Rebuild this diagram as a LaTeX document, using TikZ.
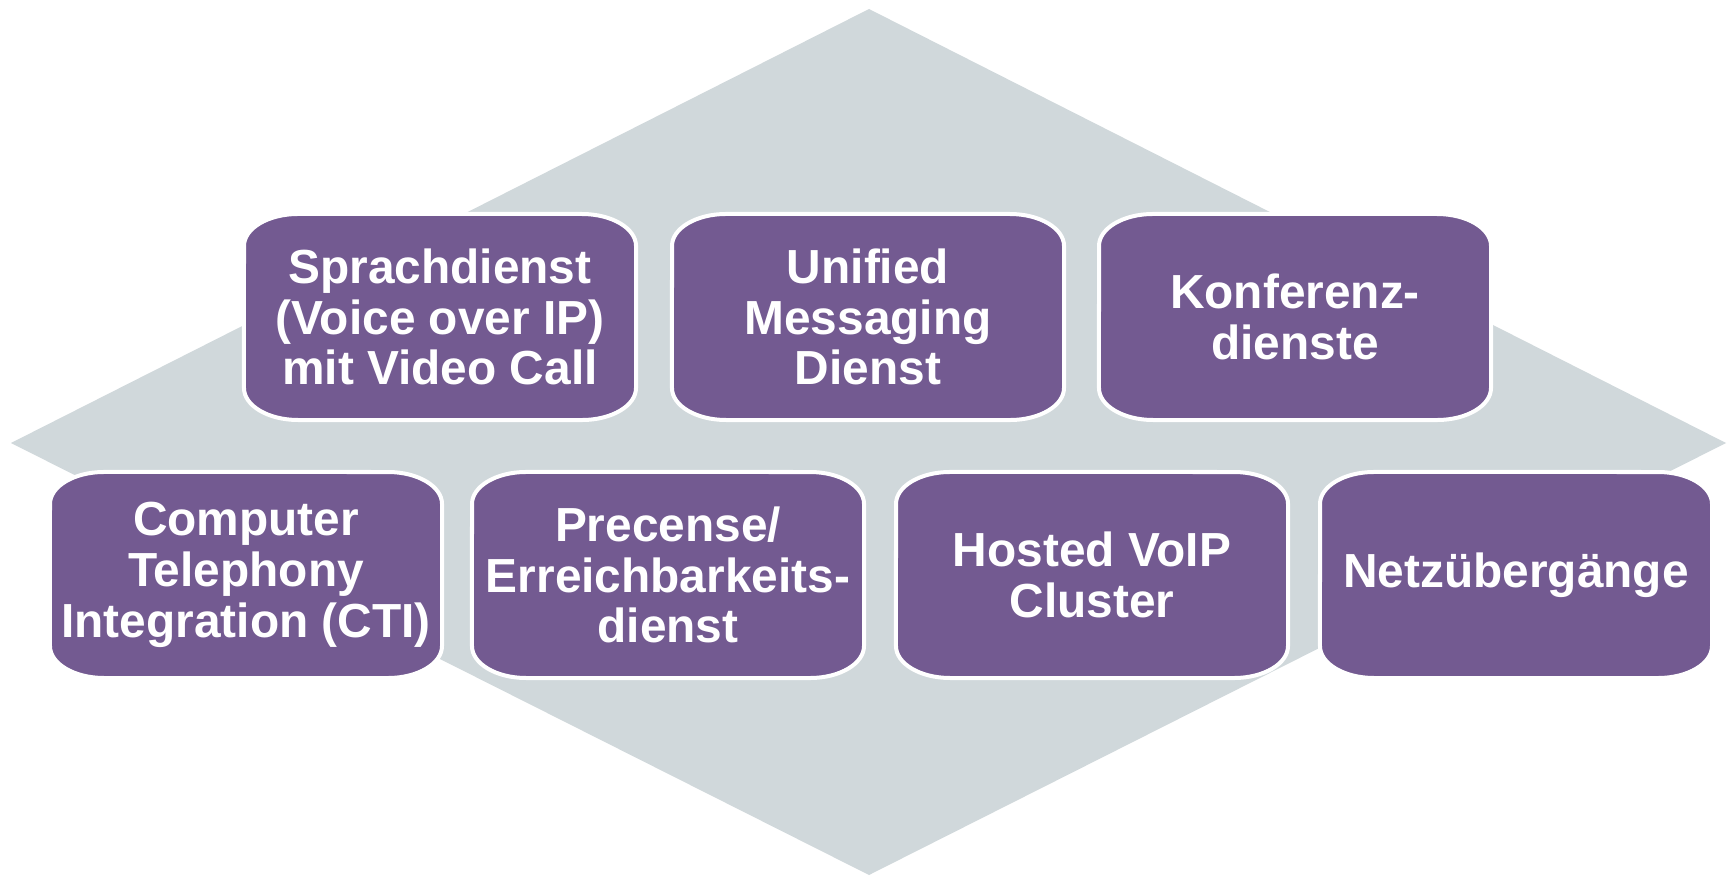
\documentclass[tikz,border=0pt]{standalone}
\usepackage{fontspec}
\setmainfont{Liberation Sans}
\definecolor{diagray}{HTML}{D0D8DB}
\definecolor{boxpurple}{HTML}{735A91}
\tikzset{
  boxshape/.style={fill=boxpurple, draw=white, line width=0.04cm},
  boxtext/.style={text=white, align=center, inner sep=0pt,
    font=\bfseries\fontsize{13.6}{14.4}\selectfont},
  diashape/.style={fill=diagray, draw=none}
}
\newcommand\ebox[4]{%
  \path[boxshape] (#2-196,#3+71) arc[start angle=180,end angle=90,x radius=0.54cm,y radius=0.32cm]
    -- (#2+142,#3+103) arc[start angle=90,end angle=0,x radius=0.54cm,y radius=0.32cm]
    -- (#2+196,#3-71) arc[start angle=0,end angle=-90,x radius=0.54cm,y radius=0.32cm]
    -- (#2-142,#3-103) arc[start angle=-90,end angle=-180,x radius=0.54cm,y radius=0.32cm]
    -- cycle;
  \node[boxtext] (#1) at (#2,#3) {#4};
}
\begin{document}
\begin{tikzpicture}[x=0.01cm,y=0.01cm]
\useasboundingbox[fill=white] (0,0) rectangle (1733,875);
\coordinate (dtop) at (869,866);
\coordinate (dleft) at (11,432);
\coordinate (dbottom) at (869,0);
\coordinate (dright) at (1726,432);
\path[diashape] (dtop) -- (dright) -- (dbottom) -- (dleft) -- cycle;
\ebox{sprach}{440}{558}{Sprachdienst\\(Voice over IP)\\mit Video Call}
\ebox{unified}{868}{558}{Unified\\Messaging\\Dienst}
\ebox{konf}{1295}{558}{Konferenz-\\dienste}
\ebox{cti}{246}{300}{Computer\\Telephony\\Integration (CTI)}
\ebox{prec}{668}{300}{Precense/\\Erreichbarkeits-\\dienst}
\ebox{hosted}{1092}{300}{Hosted VoIP\\Cluster}
\ebox{netz}{1516}{300}{Netzübergänge}
\end{tikzpicture}
\end{document}
